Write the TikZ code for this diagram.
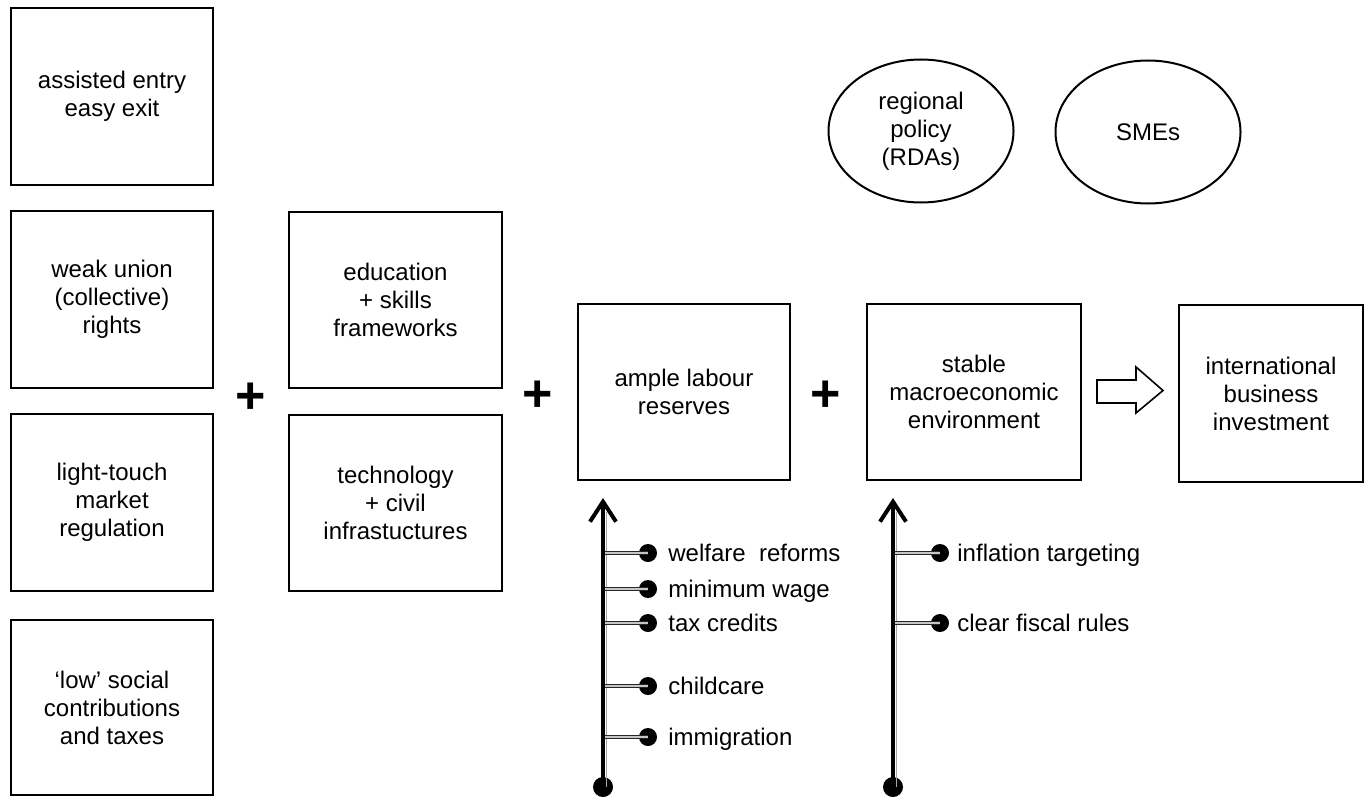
\documentclass[tikz,border=0pt]{standalone}
\usepackage{fontspec}
\setmainfont{Liberation Sans}
\usetikzlibrary{arrows.meta,shapes.geometric}
\begin{document}
\begin{tikzpicture}[x=0.5pt,y=-0.5pt,
  txt/.style={font=\fontsize{12}{14}\selectfont},
  box/.style={txt,draw,line width=1pt,inner sep=0pt,align=center},
  oval/.style={txt,draw,ellipse,line width=1pt,inner sep=0pt,align=center,minimum width=92.5pt,minimum height=71.5pt},
  plus/.style={font=\fontsize{26}{26}\selectfont\bfseries,inner sep=0pt},
  dot/.style={circle,fill=black,inner sep=0pt,minimum size=9pt},
  enddot/.style={circle,fill=black,inner sep=0pt,minimum size=10pt},
  lbl/.style={txt,anchor=base west,inner sep=0pt},
  shaft/.style={line width=2pt,-{Straight Barb[length=10pt,width=13pt]}},
  shaftgray/.style={draw=gray!70,line width=0.9pt},
  branch/.style={draw=black!85,line width=0.6pt,double=gray!45,double distance=1.2pt},
  hollow/.style={draw,line width=0.8pt,fill=white}
]
\useasboundingbox (0,0) rectangle (1364,797);

% left column
\node[box,minimum width=101pt,minimum height=88.5pt] (b1) at (112,96.5) {assisted entry\\easy exit};
\node[box,minimum width=101pt,minimum height=88.5pt] (b2) at (112,299.5) {weak union\\(collective)\\rights};
\node[box,minimum width=101pt,minimum height=88.5pt] (b3) at (112,502.5) {light-touch\\market\\regulation};
\node[box,minimum width=101pt,minimum height=87.5pt] (b4) at (112,707.5) {‘low’ social\\contributions\\and taxes};

% second column
\node[box,minimum width=106.5pt,minimum height=88pt] (b5) at (395.5,300) {education\\+ skills\\frameworks};
\node[box,minimum width=106.5pt,minimum height=88pt] (b6) at (395.5,503) {technology\\+ civil\\infrastuctures};

% main row
\node[box,minimum width=106pt,minimum height=88pt] (b7) at (684,392) {ample labour\\reserves};
\node[box,minimum width=107pt,minimum height=88pt] (b8) at (974,392) {stable\\macroeconomic\\environment};
\node[box,minimum width=92pt,minimum height=88.5pt] (b9) at (1271,393.5) {international\\business\\investment};

% plus signs
\node[plus] (p1) at (251,398) {+};
\node[plus] (p2) at (538,396) {+};
\node[plus] (p3) at (826,396) {+};

% hollow arrow
\draw[hollow] (1097,380) -- (1136,380) -- (1136,367) -- (1163,390.5) -- (1136,413) -- (1136,403) -- (1097,403) -- cycle;

% ellipses
\node[oval] (e1) at (921,131) {regional\\policy\\(RDAs)};
\node[oval] (e2) at (1148,132) {SMEs};

% vertical arrow A
\node[enddot] (dA) at (603,787) {};
\coordinate (tA) at (603,498);
\coordinate (gA) at (603,512);
\draw[shaftgray] ([xshift=1.7pt]dA.center) -- ([xshift=1.7pt]gA);
\draw[shaft] (dA.center) -- (tA);
\foreach \n/\y/\t in {a1/553/{welfare\ \ reforms},a2/589/{minimum wage},a3/623/{tax credits},a4/686/{childcare},a5/737/{immigration}}{
  \node[dot] (\n) at (648,\y) {};
  \draw[branch] ([xshift=1pt]\n -| tA) -- (\n.center);
  \node[lbl] (\n t) at (668,\y+8) {\t};
}

% vertical arrow B
\node[enddot] (dB) at (893,787) {};
\coordinate (tB) at (893,498);
\coordinate (gB) at (893,512);
\draw[shaftgray] ([xshift=1.7pt]dB.center) -- ([xshift=1.7pt]gB);
\draw[shaft] (dB.center) -- (tB);
\foreach \n/\y/\t in {c1/553/{inflation targeting},c2/623/{clear fiscal rules}}{
  \node[dot] (\n) at (940,\y) {};
  \draw[branch] ([xshift=1pt]\n -| tB) -- (\n.center);
  \node[lbl] (\n t) at (957,\y+8) {\t};
}
\end{tikzpicture}
\end{document}
